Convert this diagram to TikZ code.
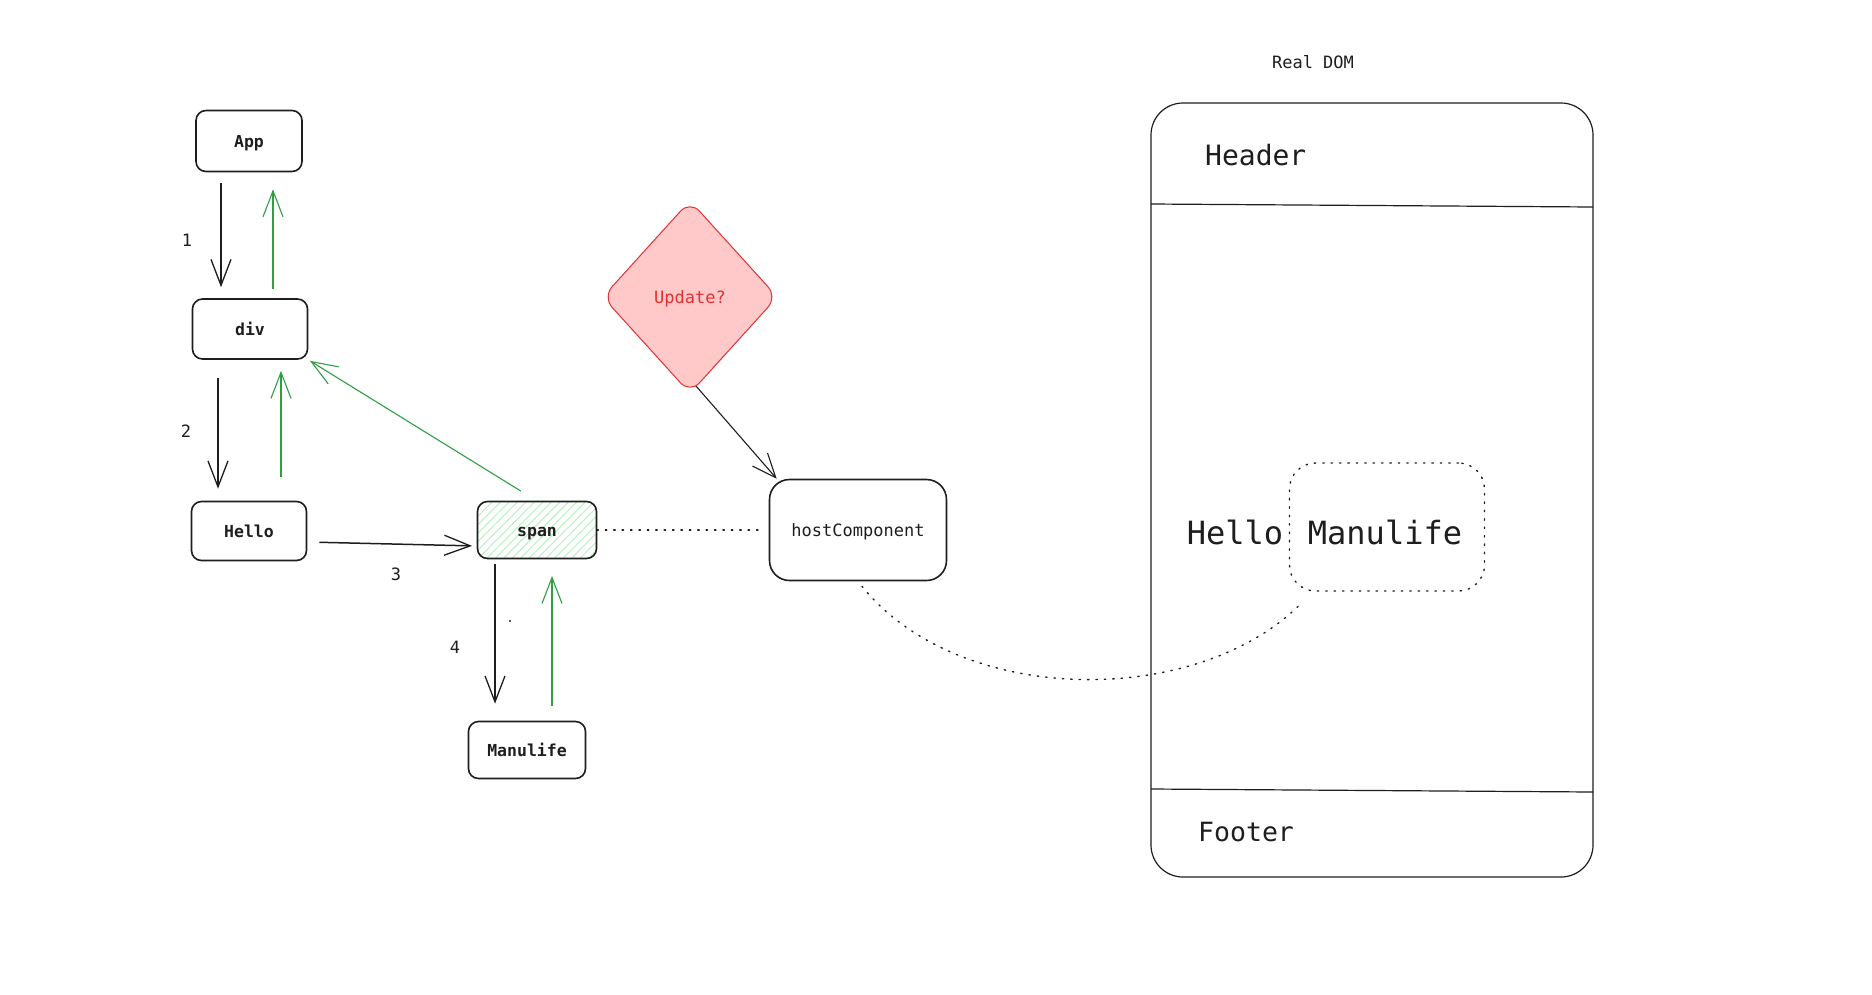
\documentclass[tikz,border=0pt]{standalone}
\usepackage{fontspec}
\setmonofont{DejaVu Sans Mono}
\usetikzlibrary{arrows.meta,patterns.meta,shapes.geometric}
\definecolor{ink}{HTML}{1E1E1E}
\definecolor{grn}{HTML}{2F9E44}
\definecolor{hatch}{HTML}{B2F2BB}
\definecolor{rstroke}{HTML}{E03131}
\definecolor{rfill}{HTML}{FFC9C9}
\newcommand\myfs[1]{\fontsize{#1}{#1}\selectfont}
\tikzset{
  treebox/.style={draw=ink, line width=1.6pt, rounded corners=10pt, text=ink,
    font=\ttfamily\bfseries\myfs{16.5}, inner sep=0pt, text height=13pt, text depth=0pt},
  blackarrow/.style={draw=ink, line width=1.5pt, -{Straight Barb[length=26pt,width=20pt,line width=1.3pt]}},
  greenarrow/.style={draw=grn, line width=1.1pt, -{Straight Barb[length=26pt,width=20pt,line width=1.1pt]}},
  numlabel/.style={text=ink, font=\ttfamily\myfs{17}, inner sep=0pt},
  dotline/.style={draw=ink, line width=1.4pt, dash pattern=on 1.4pt off 7pt, line cap=round},
}
\begin{document}
\begin{tikzpicture}[x=1pt,y=-1pt]
\fill[white] (0,0) rectangle (1872,994);
\useasboundingbox (0,0) rectangle (1872,994);

% tree nodes
\node[treebox, minimum width=106pt, minimum height=61pt] (app) at (249,141) {App};
\node[treebox, minimum width=115pt, minimum height=60pt] (div) at (250,329) {div};
\node[treebox, minimum width=115pt, minimum height=59pt] (hello) at (249,531) {Hello};
\node[treebox, minimum width=119pt, minimum height=57pt,
      pattern={Lines[angle=45,distance=6pt,line width=0.9pt]}, pattern color=hatch] (span) at (537,530) {};
\node[text=ink, font=\ttfamily\bfseries\myfs{16.5}, inner sep=0pt, text height=13pt, text depth=0pt] (spantext) at (537,530) {span};
\node[treebox, minimum width=117pt, minimum height=57pt] (manu) at (527,750) {Manulife};

% update diamond and host component
\node[diamond, draw=rstroke, fill=rfill, line width=1pt, rounded corners=14pt,
      minimum width=175pt, minimum height=193pt, inner sep=0pt,
      text=rstroke, font=\ttfamily\myfs{17}, text height=13pt, text depth=0pt] (upd) at (690,297) {Update?};
\node[draw=ink, line width=1.6pt, rounded corners=20pt, minimum width=177pt, minimum height=101pt,
      inner sep=0pt, text=ink, font=\ttfamily\myfs{17}, text height=13pt, text depth=0pt] (host) at (858,530) {hostComponent};

% numbers
\node[numlabel] (n1) at (187,240) {1};
\node[numlabel] (n2) at (186,431) {2};
\node[numlabel] (n3) at (396,574) {3};
\node[numlabel] (n4) at (455,647) {4};
\fill[ink] (510,621) circle (1.1pt);

% black arrows (down)
\draw[blackarrow, shorten <=11pt, shorten >=11pt] ([xshift=-28pt]app.south) -- ([xshift=-29pt]div.north);
\draw[blackarrow, shorten <=18pt, shorten >=12pt] ([xshift=-32pt]div.south) -- ([xshift=-31pt]hello.north);
\draw[blackarrow, shorten <=12pt, shorten >=5pt] ([yshift=-11pt]hello.east) -- ([yshift=-16pt]span.west);
\draw[blackarrow, shorten <=5pt, shorten >=17pt] ([xshift=-42pt]span.south) -- ([xshift=-32pt]manu.north);

% green arrows (up)
\draw[greenarrow, shorten <=9pt, shorten >=17pt] ([xshift=23pt]div.north) -- ([xshift=24pt]app.south);
\draw[greenarrow, shorten <=24pt, shorten >=11pt] ([xshift=32pt]hello.north) -- ([xshift=31pt]div.south);
\draw[greenarrow, shorten <=19pt, shorten >=2pt] (span.north) -- (div.south east);
\draw[greenarrow, shorten <=15pt, shorten >=17pt] ([xshift=25pt]manu.north) -- ([xshift=15pt]span.south);

% update -> host
\draw[draw=ink, line width=1.1pt, -{Straight Barb[length=24pt,width=20pt,line width=1.1pt]}]
  ([xshift=6pt,yshift=8pt]upd.south) -- ([xshift=8pt]host.north west);

% dotted span -- host
\draw[dotline, shorten >=9pt] (span.east) -- (host.west);

% Real DOM
\node[text=ink, font=\ttfamily\myfs{17}] (rdtitle) at (1313,62) {Real DOM};
\node[draw=ink, line width=1.2pt, rounded corners=32pt, minimum width=442pt, minimum height=774pt,
      inner sep=0pt] (dom) at (1372,490) {};
\draw[ink, line width=1.2pt] (1151,204) -- (1593,207);
\draw[ink, line width=1.2pt] (1151,789) -- (1593,792);
\node[text=ink, font=\ttfamily\myfs{28}, anchor=west, inner sep=0pt] (hdr) at (1205,155) {Header};
\node[text=ink, font=\ttfamily\myfs{26.5}, anchor=west, inner sep=0pt] (ftr) at (1198,832) {Footer};
\node[text=ink, font=\ttfamily\myfs{32}, inner sep=0pt] (hel) at (1235,532) {Hello};
\node[dotline, rounded corners=26pt, minimum width=195pt, minimum height=128pt, inner sep=0pt] (mbox) at (1387,527) {};
\node[text=ink, font=\ttfamily\myfs{32}, inner sep=0pt] (mtxt) at (1385,532) {Manulife};

% dotted curve host -> Manulife
\draw[dotline] ([xshift=4pt, yshift=-5pt]host.south) .. controls (960,708) and (1200,708) .. ([xshift=14pt,yshift=-10pt]mbox.south west);
\end{tikzpicture}
\end{document}
